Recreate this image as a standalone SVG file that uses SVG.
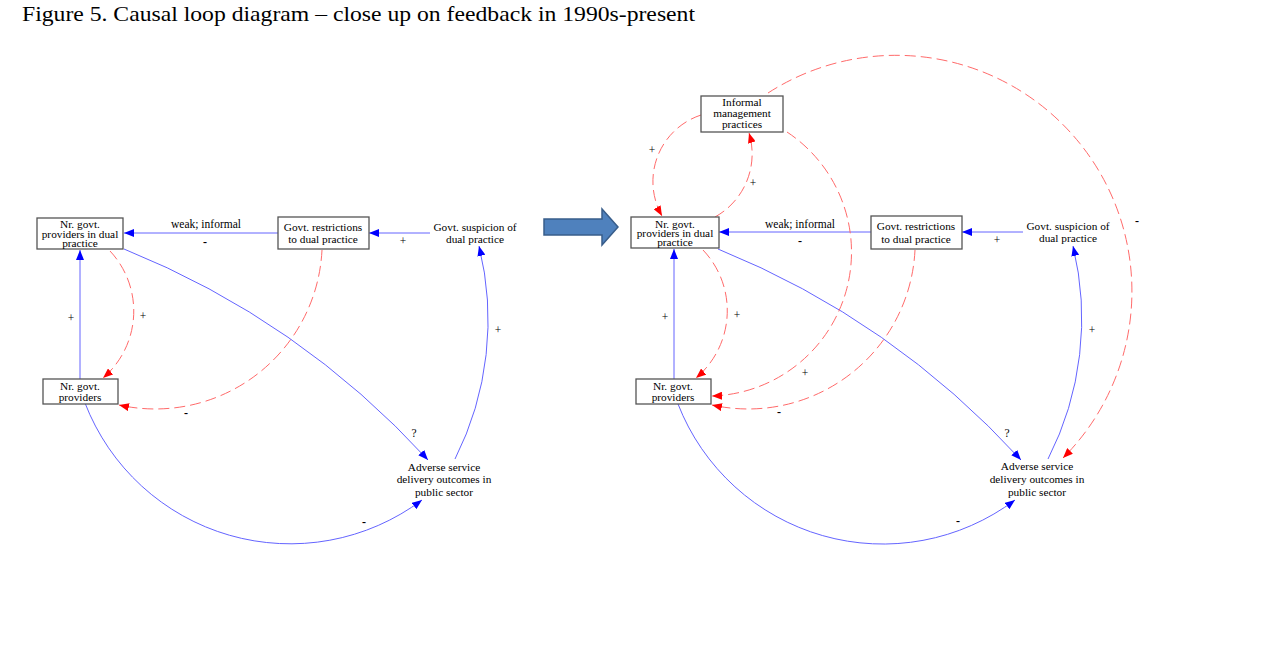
<svg xmlns="http://www.w3.org/2000/svg" width="1272" height="654" viewBox="0 0 1272 654">
<defs>
<style>
text{font-family:"Liberation Serif","Times New Roman",serif;fill:#000}
.t{font-size:11.3px;text-anchor:middle}
.title{font-size:22px}
.box{fill:#fff;stroke:#555;stroke-width:1.3}
.b{fill:none;stroke:#6464ff;stroke-width:1}
.r{fill:none;stroke:#ff6a6a;stroke-width:1;stroke-dasharray:11,5}
.lb{font-size:11.5px;text-anchor:middle}
.m{font-size:12px;text-anchor:middle;font-weight:bold}
</style>
<marker id="ab" markerWidth="10" markerHeight="8" refX="10" refY="4" orient="auto" markerUnits="userSpaceOnUse"><path d="M0,0 L10,4 L0,8 z" fill="#0000ff"/></marker>
<marker id="ar" markerWidth="10" markerHeight="8" refX="10" refY="4" orient="auto" markerUnits="userSpaceOnUse"><path d="M0,0 L10,4 L0,8 z" fill="#ff0000"/></marker>
</defs>
<rect width="1272" height="654" fill="#fff"/>
<text class="title" x="22" y="21" textLength="673" lengthAdjust="spacingAndGlyphs">Figure 5. Causal loop diagram – close up on feedback in 1990s-present</text>

<g id="connectors">
<!-- left -->
<path class="b" d="M278,233 L124,233" marker-end="url(#ab)"/>
<path class="b" d="M430,233 L369,233" marker-end="url(#ab)"/>
<path class="b" d="M80,379 L80,250" marker-end="url(#ab)"/>
<path class="r" d="M110,251 A88,88 0 0 1 103,378" marker-end="url(#ar)"/>
<path class="r" d="M322,250 A167,167 0 0 1 119,405" marker-end="url(#ar)"/>
<path class="b" d="M124,249 Q300,320 428,460" marker-end="url(#ab)"/>
<path class="b" d="M85,403 A220,220 0 0 0 422,500" marker-end="url(#ab)"/>
<path class="b" d="M455,459 A308,308 0 0 0 479,246" marker-end="url(#ab)"/>
<!-- right -->
<path class="b" d="M871,232 L719,232" marker-end="url(#ab)"/>
<path class="b" d="M1023,232 L962,232" marker-end="url(#ab)"/>
<path class="b" d="M674,379 L674,249" marker-end="url(#ab)"/>
<path class="r" d="M703,250 A88,88 0 0 1 696,378" marker-end="url(#ar)"/>
<path class="r" d="M915,250 A167,167 0 0 1 712,405" marker-end="url(#ar)"/>
<path class="b" d="M718,249 Q893,320 1021,460" marker-end="url(#ab)"/>
<path class="b" d="M678,404 A220,220 0 0 0 1015,500" marker-end="url(#ab)"/>
<path class="b" d="M1048,459 A308,308 0 0 0 1073,246" marker-end="url(#ab)"/>
<path class="r" d="M701,115 A70,70 0 0 0 662,216" marker-end="url(#ar)"/>
<path class="r" d="M715,217 A72,72 0 0 0 749,133" marker-end="url(#ar)"/>
<path class="r" d="M787,132 A144,144 0 0 1 712,396" marker-end="url(#ar)"/>
<path class="r" d="M768,93 A236,236 0 0 1 1063,458" marker-end="url(#ar)"/>
<!-- labels left -->
<text class="lb" x="206" y="228">weak; informal</text>
<text class="m" x="205" y="246">-</text>
<text class="lb" x="403" y="245">+</text>
<text class="lb" x="71" y="322">+</text>
<text class="lb" x="143" y="320">+</text>
<text class="m" x="186" y="417">-</text>
<text class="lb" x="414" y="437">?</text>
<text class="m" x="364" y="526">-</text>
<text class="lb" x="498" y="334">+</text>
<!-- labels right -->
<text class="lb" x="800" y="228">weak; informal</text>
<text class="m" x="800" y="245">-</text>
<text class="lb" x="997" y="244">+</text>
<text class="lb" x="665" y="321">+</text>
<text class="lb" x="737" y="319">+</text>
<text class="lb" x="805" y="377">+</text>
<text class="m" x="779" y="416">-</text>
<text class="lb" x="1007" y="437">?</text>
<text class="m" x="958" y="525">-</text>
<text class="lb" x="1092" y="334">+</text>
<text class="m" x="1137" y="225">-</text>
<text class="lb" x="652" y="154">+</text>
<text class="lb" x="753" y="187">+</text>
</g>

<g id="bigarrow">
<polygon points="544,219 602,219 602,209 618,227 602,245 602,235 544,235" fill="#4f81bd" stroke="#385d8a" stroke-width="1.5"/>
</g>

<!-- left nodes -->
<g id="L-dual">
<rect class="box" x="37" y="218" width="86" height="31"/>
<text class="t" x="80" y="228">Nr. govt.</text>
<text class="t" x="80" y="238">providers in dual</text>
<text class="t" x="80" y="247">practice</text>
</g>
<g id="L-restrictions">
<rect class="box" x="278" y="217" width="91" height="32"/>
<text class="t" x="323" y="231">Govt. restrictions</text>
<text class="t" x="323" y="243">to dual practice</text>
</g>
<g id="L-suspicion">
<text class="t" x="475" y="231">Govt. suspicion of</text>
<text class="t" x="475" y="243">dual practice</text>
</g>
<g id="L-providers">
<rect class="box" x="43" y="379" width="75" height="25"/>
<text class="t" x="80" y="390">Nr. govt.</text>
<text class="t" x="80" y="401">providers</text>
</g>
<g id="L-adverse">
<text class="t" x="444" y="471">Adverse service</text>
<text class="t" x="444" y="483">delivery outcomes in</text>
<text class="t" x="444" y="496">public sector</text>
</g>

<!-- right nodes -->
<g id="R-informal">
<rect class="box" x="701" y="96" width="82" height="36"/>
<text class="t" x="742" y="106">Informal</text>
<text class="t" x="742" y="117">management</text>
<text class="t" x="742" y="128">practices</text>
</g>
<g id="R-dual">
<rect class="box" x="631" y="217" width="88" height="31"/>
<text class="t" x="675" y="228">Nr. govt.</text>
<text class="t" x="675" y="237">providers in dual</text>
<text class="t" x="675" y="246">practice</text>
</g>
<g id="R-restrictions">
<rect class="box" x="871" y="216" width="91" height="33"/>
<text class="t" x="916" y="230">Govt. restrictions</text>
<text class="t" x="916" y="243">to dual practice</text>
</g>
<g id="R-suspicion">
<text class="t" x="1068" y="230">Govt. suspicion of</text>
<text class="t" x="1068" y="242">dual practice</text>
</g>
<g id="R-providers">
<rect class="box" x="636" y="379" width="75" height="25"/>
<text class="t" x="673" y="390">Nr. govt.</text>
<text class="t" x="673" y="401">providers</text>
</g>
<g id="R-adverse">
<text class="t" x="1037" y="470">Adverse service</text>
<text class="t" x="1037" y="483">delivery outcomes in</text>
<text class="t" x="1037" y="496">public sector</text>
</g>
</svg>
